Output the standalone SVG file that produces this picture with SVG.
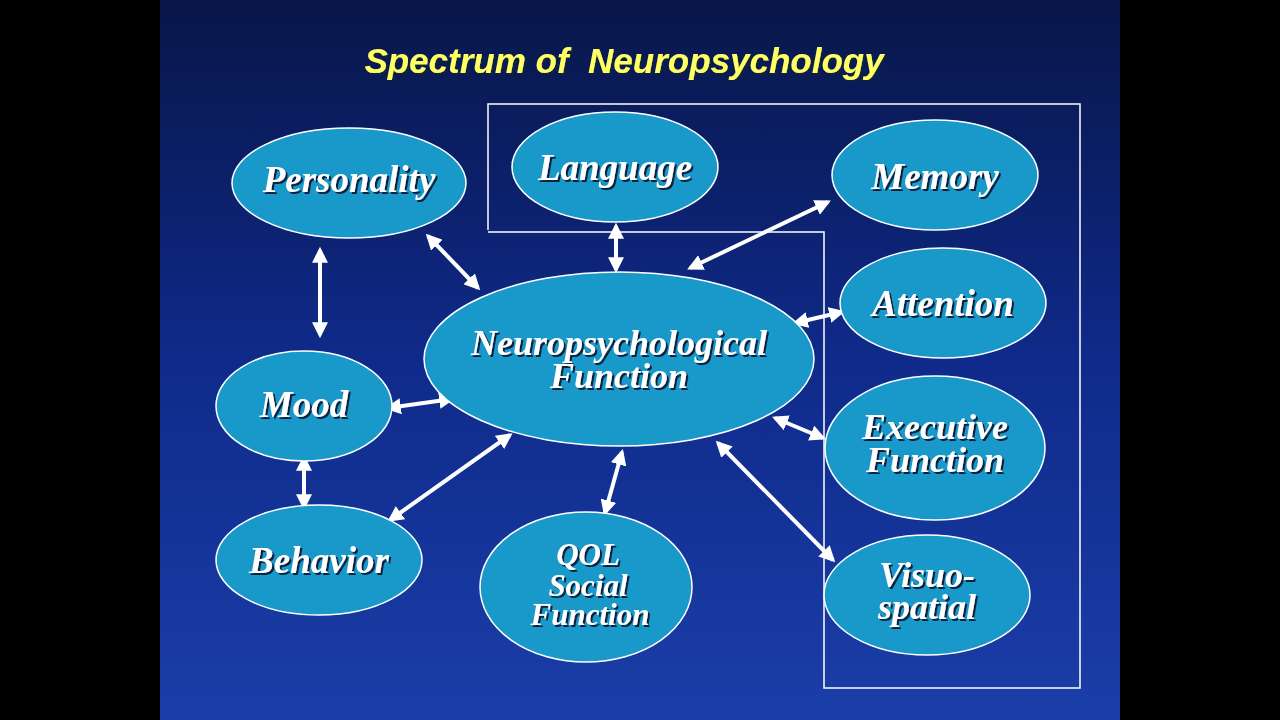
<svg xmlns="http://www.w3.org/2000/svg" width="1280" height="720" viewBox="0 0 1280 720">
<defs>
<linearGradient id="bg" x1="0" y1="0" x2="0" y2="1"><stop offset="0" stop-color="#081648"/><stop offset="0.5" stop-color="#0f2a8a"/><stop offset="1" stop-color="#1a3ea8"/></linearGradient>
<marker id="ah" viewBox="0 0 10 10" refX="8" refY="5" markerWidth="4" markerHeight="4" orient="auto-start-reverse"><path d="M0,0 L10,5 L0,10 z" fill="#fff"/></marker>
<filter id="sh"><feDropShadow dx="2" dy="2" stdDeviation="0.5" flood-color="#0a2040"/></filter>
</defs>
<style>
.n ellipse{fill:#1999c9;stroke:#fff;stroke-width:1.5}
.n text{font-family:"Liberation Serif",serif;font-weight:bold;font-style:italic;fill:#fff;text-anchor:middle;filter:url(#sh)}
.c line{stroke:#fff;stroke-width:4;marker-start:url(#ah);marker-end:url(#ah)}
</style>
<rect width="1280" height="720" fill="#000"/>
<rect x="160" y="0" width="960" height="720" fill="url(#bg)"/>
<text x="624" y="73" xml:space="preserve" font-family="Liberation Sans,Arial,sans-serif" font-weight="bold" font-style="italic" font-size="35" fill="#ffff66" text-anchor="middle" filter="url(#sh)">Spectrum of  Neuropsychology</text>
<path d="M488,230 V104 H1080 V688 H824 V232 H488" fill="none" stroke="#fff" stroke-width="1.5"/>
<g class="c">
<line x1="428" y1="236" x2="478" y2="288"/>
<line x1="320" y1="250" x2="320" y2="335"/>
<line x1="616" y1="226" x2="616" y2="270"/>
<line x1="828" y1="202" x2="690" y2="268"/>
<line x1="842" y1="312" x2="795" y2="323"/>
<line x1="388" y1="408" x2="452" y2="399"/>
<line x1="304" y1="458" x2="304" y2="507"/>
<line x1="390" y1="520" x2="510" y2="435"/>
<line x1="622" y1="452" x2="605" y2="513"/>
<line x1="823" y1="438" x2="775" y2="418"/>
<line x1="833" y1="560" x2="718" y2="443"/>
</g>
<g class="n" id="personality"><ellipse cx="349" cy="183" rx="117" ry="55"/><text x="349" y="192" font-size="37">Personality</text></g>
<g class="n" id="language"><ellipse cx="615" cy="167" rx="103" ry="55"/><text x="615" y="180" font-size="37">Language</text></g>
<g class="n" id="memory"><ellipse cx="935" cy="175" rx="103" ry="55"/><text x="935" y="189" font-size="37">Memory</text></g>
<g class="n" id="attention"><ellipse cx="943" cy="303" rx="103" ry="55"/><text x="943" y="316" font-size="37">Attention</text></g>
<g class="n" id="neuro"><ellipse cx="619" cy="359" rx="195" ry="87"/><text x="619" y="355" font-size="36">Neuropsychological</text><text x="619" y="388" font-size="36">Function</text></g>
<g class="n" id="mood"><ellipse cx="304" cy="406" rx="88" ry="55"/><text x="304" y="417" font-size="37">Mood</text></g>
<g class="n" id="executive"><ellipse cx="935" cy="448" rx="110" ry="72"/><text x="935" y="439" font-size="36">Executive</text><text x="935" y="472" font-size="36">Function</text></g>
<g class="n" id="behavior"><ellipse cx="319" cy="560" rx="103" ry="55"/><text x="319" y="573" font-size="37">Behavior</text></g>
<g class="n" id="qol"><ellipse cx="586" cy="587" rx="106" ry="75"/><text x="588" y="565" font-size="31">QOL</text><text x="588" y="596" font-size="31">Social</text><text x="590" y="625" font-size="31">Function</text></g>
<g class="n" id="visuo"><ellipse cx="927" cy="595" rx="103" ry="60"/><text x="927" y="587" font-size="36">Visuo-</text><text x="927" y="619" font-size="36">spatial</text></g>
</svg>
